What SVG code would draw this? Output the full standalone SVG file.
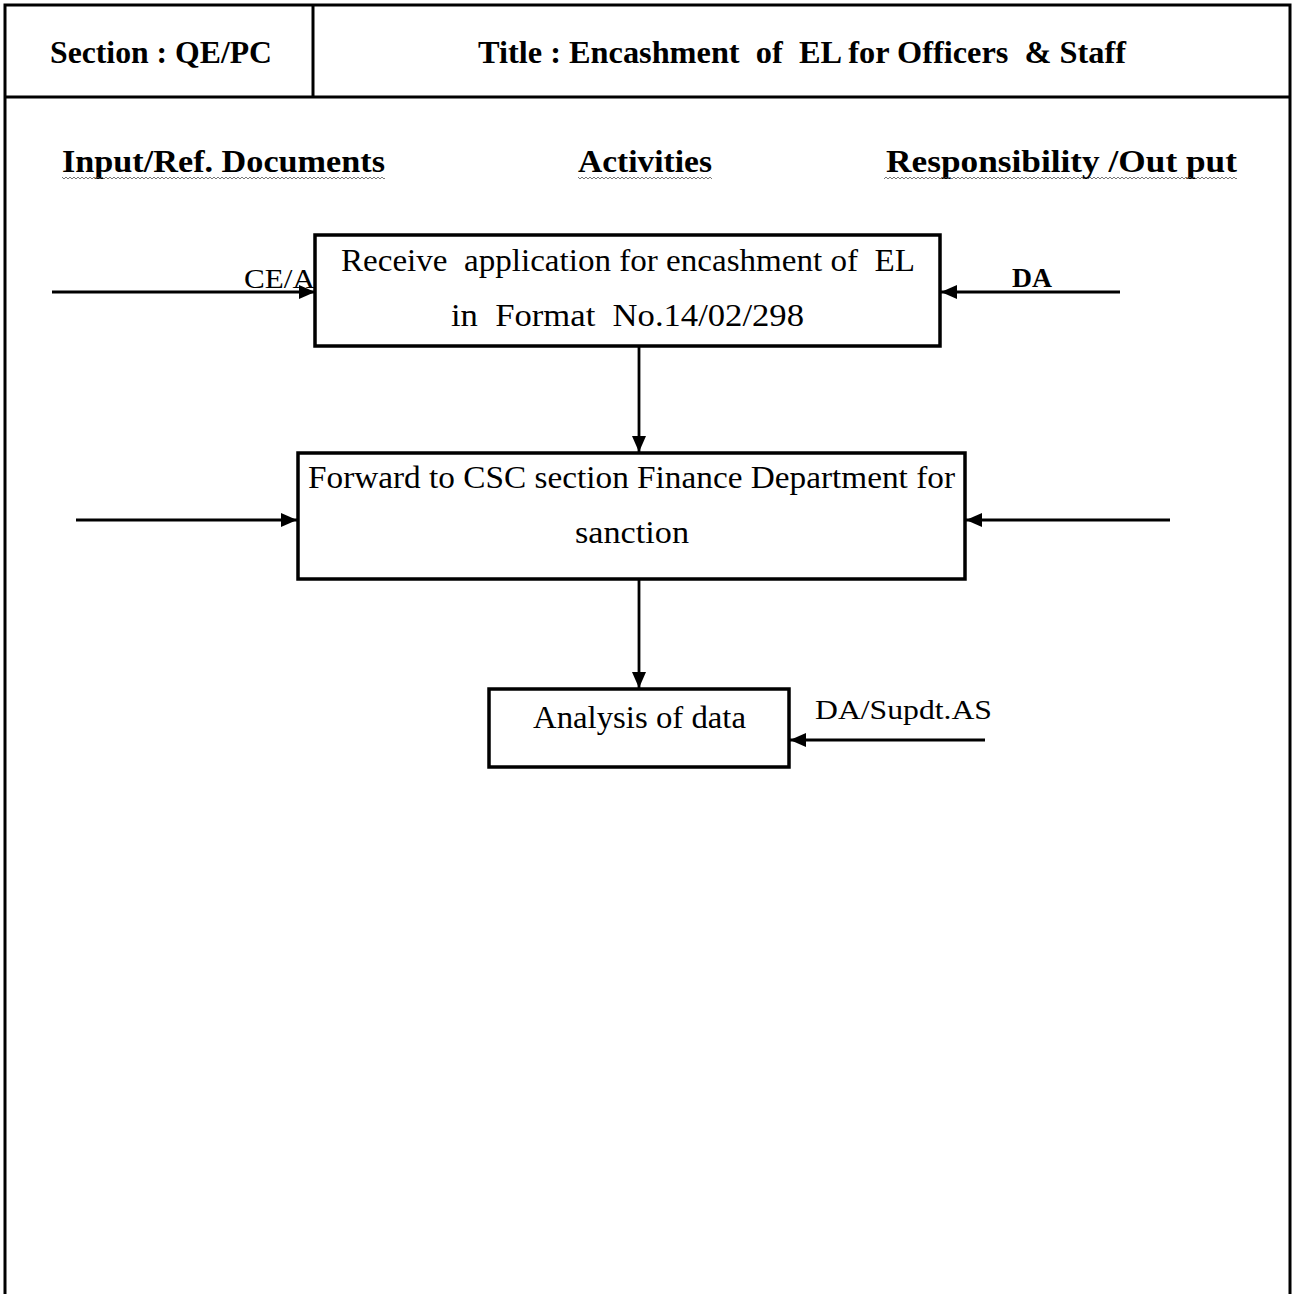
<svg xmlns="http://www.w3.org/2000/svg" width="1295" height="1294" viewBox="0 0 1295 1294">
  <style>
    .frame { fill: none; stroke: #000; stroke-width: 3; }
    .box { fill: #fff; stroke: #000; stroke-width: 3.5; }
    .conn { stroke: #000; stroke-width: 2.8; fill: none; }
    .hd { font-family: "Liberation Serif", "DejaVu Serif", serif; font-weight: bold; font-size: 32px; fill: #000; }
    .lbl { font-family: "Liberation Serif", "DejaVu Serif", serif; font-size: 31px; fill: #000; }
    .side { font-family: "Liberation Serif", "DejaVu Serif", serif; font-size: 27px; fill: #000; }
  </style>
  <defs>
    <marker id="arrow" viewBox="0 0 16 14" refX="16" refY="7" markerWidth="16" markerHeight="14" markerUnits="userSpaceOnUse" orient="auto">
      <path d="M0,0 L16,7 L0,14 Z" fill="#000"/>
    </marker>
    <pattern id="squiggle" width="4" height="4" patternUnits="userSpaceOnUse">
      <path d="M0,3 L2,1 L4,3" fill="none" stroke="#555" stroke-width="0.8"/>
    </pattern>
  </defs>

  <!-- page frame and header row -->
  <g id="frame">
    <path class="frame" d="M5,1300 V5 H1290 V1300"/>
    <line class="frame" x1="5" y1="97" x2="1290" y2="97"/>
    <line class="frame" x1="313" y1="5" x2="313" y2="97" stroke-width="2"/>
    <text class="hd" x="50" y="63" textLength="222" lengthAdjust="spacingAndGlyphs">Section : QE/PC</text>
    <text class="hd" x="478" y="63" textLength="648" lengthAdjust="spacingAndGlyphs" xml:space="preserve">Title : Encashment  of  EL for Officers  &amp; Staff</text>
  </g>

  <!-- column headings -->
  <g id="columns">
    <text class="hd" x="62" y="172" textLength="323" lengthAdjust="spacingAndGlyphs">Input/Ref. Documents</text>
    <text class="hd" x="578" y="172" textLength="134" lengthAdjust="spacingAndGlyphs">Activities</text>
    <text class="hd" x="886" y="172" textLength="351" lengthAdjust="spacingAndGlyphs">Responsibility /Out put</text>
    <rect x="62" y="175" width="323" height="4" fill="url(#squiggle)"/>
    <rect x="578" y="175" width="134" height="4" fill="url(#squiggle)"/>
    <rect x="884" y="175" width="353" height="4" fill="url(#squiggle)"/>
  </g>

  <!-- connectors -->
  <g id="connectors">
    <line class="conn" x1="52" y1="292" x2="315" y2="292" marker-end="url(#arrow)"/>
    <line class="conn" x1="1120" y1="292" x2="941" y2="292" marker-end="url(#arrow)"/>
    <line class="conn" x1="639" y1="347" x2="639" y2="452" marker-end="url(#arrow)"/>
    <line class="conn" x1="76" y1="520" x2="297" y2="520" marker-end="url(#arrow)"/>
    <line class="conn" x1="1170" y1="520" x2="966" y2="520" marker-end="url(#arrow)"/>
    <line class="conn" x1="639" y1="580" x2="639" y2="688" marker-end="url(#arrow)"/>
    <line class="conn" x1="985" y1="740" x2="790" y2="740" marker-end="url(#arrow)"/>
  </g>

  <!-- side labels -->
  <g id="labels">
    <text class="side" x="244" y="288" textLength="71" lengthAdjust="spacingAndGlyphs">CE/A</text>
    <text class="side" x="1012" y="287" font-weight="bold" textLength="40" lengthAdjust="spacingAndGlyphs">DA</text>
    <text class="side" x="815" y="719" textLength="177" lengthAdjust="spacingAndGlyphs">DA/Supdt.AS</text>
  </g>

  <!-- activity boxes -->
  <g id="node-receive">
    <rect class="box" x="315" y="235" width="625" height="111"/>
    <text class="lbl" x="341" y="271" textLength="574" lengthAdjust="spacingAndGlyphs" xml:space="preserve">Receive  application for encashment of  EL</text>
    <text class="lbl" x="451" y="326" textLength="353" lengthAdjust="spacingAndGlyphs" xml:space="preserve">in  Format  No.14/02/298</text>
  </g>

  <g id="node-forward">
    <rect class="box" x="298" y="453" width="667" height="126"/>
    <text class="lbl" x="308" y="488" textLength="647" lengthAdjust="spacingAndGlyphs">Forward to CSC section Finance Department for</text>
    <text class="lbl" x="575" y="543" textLength="114" lengthAdjust="spacingAndGlyphs">sanction</text>
  </g>

  <g id="node-analysis">
    <rect class="box" x="489" y="689" width="300" height="78"/>
    <text class="lbl" x="533" y="728" textLength="213" lengthAdjust="spacingAndGlyphs">Analysis of data</text>
  </g>
</svg>
